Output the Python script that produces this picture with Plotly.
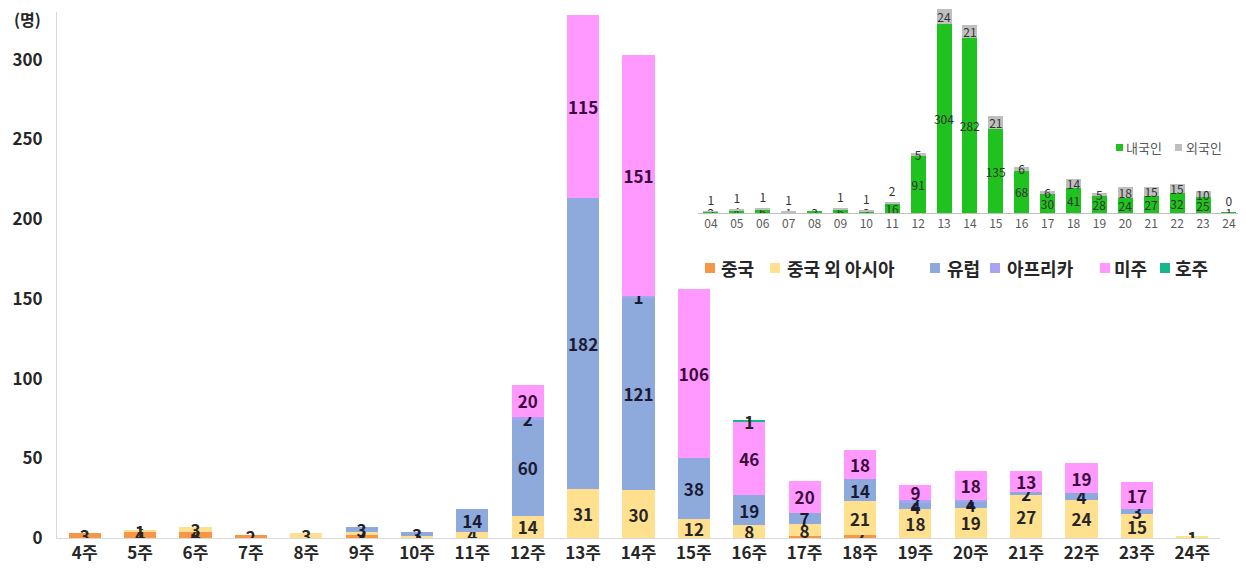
import plotly.graph_objects as go

# ---- main chart data (weekly imported cases by region) ----
weeks = [f"{w}주" for w in range(4, 25)]
china      = [3, 4, 4, 2, 0, 2, 0, 0, 0, 0, 0, 0, 0, 1, 2, 0, 0, 0, 0, 0, 0]
asia_other = [0, 1, 3, 0, 3, 2, 1, 4, 14, 31, 30, 12, 8, 8, 21, 18, 19, 27, 24, 15, 1]
europe     = [0, 0, 0, 0, 0, 3, 3, 14, 60, 182, 121, 38, 19, 7, 14, 4, 4, 2, 4, 3, 0]
africa     = [0, 0, 0, 0, 0, 0, 0, 0, 2, 0, 1, 0, 0, 0, 0, 2, 1, 0, 0, 0, 0]
americas   = [0, 0, 0, 0, 0, 0, 0, 0, 20, 115, 151, 106, 46, 20, 18, 9, 18, 13, 19, 17, 0]
australia  = [0, 0, 0, 0, 0, 0, 0, 0, 0, 0, 0, 0, 1, 0, 0, 0, 0, 0, 0, 0, 0]
y_ticks = [0, 50, 100, 150, 200, 250, 300]

# ---- inset data (domestic vs foreign nationals) ----
inset_weeks = [f"{w:02d}" for w in range(4, 25)]
domestic = [2, 4, 6, 1, 3, 6, 3, 16, 91, 304, 282, 135, 68, 30, 41, 28, 24, 27, 32, 25, 1]
foreign  = [1, 1, 1, 1, None, 1, 1, 2, 5, 24, 21, 21, 6, 6, 14, 5, 18, 15, 15, 10, 0]

FONT = "Noto Sans CJK KR"
DARK = "#262626"

# figure geometry (page offset of 8px body margin is compensated)
W, H = 1230, 561
ML, MR, MT, MB = 49, 0, 0, 31
PW, PH = W - ML - MR, H - MT - MB
OFF = 8

def px(page_x):
    return (page_x - OFF - ML) / PW

def py(page_y):
    return (MT + PH - (page_y - OFF)) / PH

def lbl(vals):
    return [str(v) if v else "" for v in vals]

fig = go.Figure()

series = [
    ("중국", china, "#F79646", DARK),
    ("중국 외 아시아", asia_other, "#FFE08F", DARK),
    ("유럽", europe, "#8EA9DB", "#1a1a33"),
    ("아프리카", africa, "#A9A3F2", "#1a1a33"),
    ("미주", americas, "#FF99FF", "#3a0a3a"),
    ("호주", australia, "#14B98A", DARK),
]
for name, vals, col, tcol in series:
    fig.add_trace(go.Bar(
        x=weeks, y=vals, name=name, marker=dict(color=col, line=dict(width=0)),
        text=lbl(vals), textposition="inside", insidetextanchor="middle",
        constraintext="none", textangle=0,
        textfont=dict(family=FONT, size=17, color=tcol, weight="bold"),
        xaxis="x", yaxis="y", showlegend=False, hoverinfo="skip",
    ))

inset_series = [("내국인", "#1FC21F"), ("외국인", "#BFBFBF")]

fig.add_trace(go.Bar(
    x=inset_weeks, y=domestic, name=inset_series[0][0],
    marker=dict(color=inset_series[0][1], line=dict(width=0)),
    text=[str(v) for v in domestic], textposition="inside", insidetextanchor="middle",
    constraintext="none", textangle=0,
    textfont=dict(family=FONT, size=12, color="#333333"),
    xaxis="x2", yaxis="y2", showlegend=False, hoverinfo="skip",
))
fig.add_trace(go.Bar(
    x=inset_weeks, y=foreign, name=inset_series[1][0],
    marker=dict(color=inset_series[1][1], line=dict(width=0)),
    text=["" if v is None else str(v) for v in foreign],
    textposition=["outside" if (v is None or v <= 2) else "inside" for v in foreign],
    insidetextanchor="middle", constraintext="none", textangle=0, cliponaxis=False,
    textfont=dict(family=FONT, size=12, color="#333333"),
    xaxis="x2", yaxis="y2", showlegend=False, hoverinfo="skip",
))

# custom compact legends (squares + labels)
shapes, annotations = [], []
main_sq_x = [705, 770, 930, 990, 1100, 1160]
main_tx_x = [719, 785, 945, 1005, 1112, 1173]
for (name, _, col, _), sx, tx in zip(series, main_sq_x, main_tx_x):
    shapes.append(dict(type="rect", xref="paper", yref="paper",
                       x0=px(sx), x1=px(sx + 10), y0=py(273), y1=py(263),
                       fillcolor=col, line=dict(width=0)))
    annotations.append(dict(text=name, xref="paper", yref="paper", x=px(tx), y=py(268),
                            xanchor="left", yanchor="middle", showarrow=False,
                            font=dict(size=18, weight="bold", color=DARK, family=FONT)))
inset_sq_x = [1116, 1175]
inset_tx_x = [1124, 1184]
for (name, col), sx, tx in zip(inset_series, inset_sq_x, inset_tx_x):
    shapes.append(dict(type="rect", xref="paper", yref="paper",
                       x0=px(sx), x1=px(sx + 7), y0=py(151), y1=py(144),
                       fillcolor=col, line=dict(width=0)))
    annotations.append(dict(text=name, xref="paper", yref="paper", x=px(tx), y=py(147.5),
                            xanchor="left", yanchor="middle", showarrow=False,
                            font=dict(size=13, color="#595959", family=FONT)))
annotations.append(dict(text="(명)", xref="paper", yref="paper", x=px(43), y=py(19),
                        xanchor="right", yanchor="middle", showarrow=False,
                        font=dict(size=16, weight="bold", color=DARK, family=FONT)))

fig.update_layout(
    width=W, height=H,
    margin=dict(l=ML, r=MR, t=MT, b=MB, autoexpand=False),
    paper_bgcolor="white", plot_bgcolor="rgba(0,0,0,0)",
    barmode="stack", bargap=0.42,
    font=dict(family=FONT, color=DARK),
    xaxis=dict(domain=[0, px(1220)], showgrid=False, showline=True, linecolor="#D9D9D9",
               linewidth=1, ticks="", tickfont=dict(size=17, weight="bold", color=DARK),
               fixedrange=True),
    yaxis=dict(domain=[0, py(12)], range=[0, 330], tickvals=y_ticks, showgrid=False,
               showline=True, linecolor="#D9D9D9", zeroline=False, ticks="",
               tickfont=dict(size=17, weight="bold", color=DARK), ticklabelstandoff=10),
    xaxis2=dict(domain=[px(698), 1.0], anchor="y2", range=[-0.5, 20.35],
                showgrid=False, showline=True, linecolor="#BFBFBF", ticks="",
                tickfont=dict(size=12, color="#595959")),
    yaxis2=dict(domain=[py(213), 1.0], anchor="x2", range=[0, 330], visible=False),
    shapes=shapes, annotations=annotations,
    showlegend=False,
)

fig.write_html("out.html")
